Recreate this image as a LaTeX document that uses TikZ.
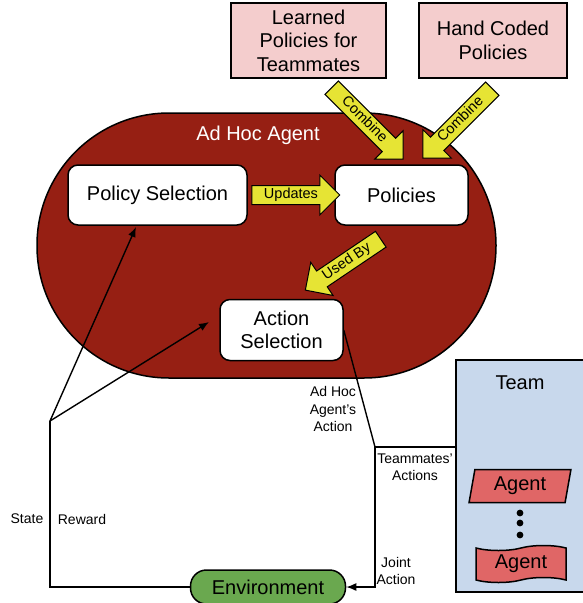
\documentclass[tikz,border=0pt]{standalone}
\usepackage{fontspec}
\setmainfont{Liberation Sans}
\usepackage{tikz}
\usetikzlibrary{shapes.geometric, shapes.symbols, shapes.arrows, arrows.meta, positioning, calc}
\definecolor{hocred}{RGB}{150,31,19}
\definecolor{srcpink}{RGB}{244,205,205}
\definecolor{flowyellow}{RGB}{230,228,52}
\definecolor{teamblue}{RGB}{200,216,236}
\definecolor{matered}{RGB}{224,102,102}
\definecolor{envgreen}{RGB}{106,168,79}

\begin{document}
\begin{tikzpicture}[x=1pt, y=-1pt]
        % Define styles
        \tikzstyle{source} = [rectangle, draw, line width=1.5pt, fill=srcpink, align=center, font=\fontsize{20}{23.5}\selectfont]
        \tikzstyle{module} = [rectangle, draw, line width=1.5pt, fill=white, rounded corners=10pt, align=center, font=\fontsize{20}{23.5}\selectfont]
        \tikzstyle{flow} = [single arrow, draw, line width=1pt, fill=flowyellow, single arrow head extend=10.5pt, inner xsep=1pt, inner ysep=2.5pt, text height=10pt, text depth=3pt, font=\fontsize{14.5}{16}\selectfont]
        \tikzstyle{mate} = [draw, line width=1.5pt, fill=matered, font=\fontsize{20}{23.5}\selectfont]
        \tikzstyle{small} = [align=center, font=\fontsize{14}{17.5}\selectfont]
        \tikzstyle{arrow} = [-{Latex[length=10pt, width=8pt]}, line width=1.4pt]
        \tikzstyle{line} = [line width=1.4pt]

        \useasboundingbox (0,0) rectangle (583,603);

        % Agent body
        \node[draw, line width=1.5pt, fill=hocred, rounded corners=132pt, minimum width=459, minimum height=265] (adhoc) at (266.5,245.5) {};
        \node[white, font=\fontsize{20}{23.5}\selectfont] (adhoclbl) at (258,135) {Ad Hoc Agent};

        % Policy sources
        \node[source, minimum width=155, minimum height=75] (lpt) at (308.5,40.5) {Learned\\Policies for\\Teammates};
        \node[source, minimum width=148, minimum height=75] (hcp) at (493,40.5) {Hand Coded\\Policies};

        % Modules
        \node[module, minimum width=179, minimum height=60] (ps) at (157.5,195) {Policy Selection};
        \node[module, minimum width=133, minimum height=60] (pol) at (401.5,195) {Policies};
        \node[module, minimum width=123, minimum height=61] (act) at (281.5,330) {Action\\Selection};

        % Block arrows
        \node[flow, minimum height=88] (upd) at (291,195) {Updates};
        \node[flow, minimum height=101, rotate=-45] (cmb1) at (364,120) {Combine};
        \node[flow, minimum height=98, rotate=45, shape border rotate=180] (cmb2) at (461,120) {Combine};
        \node[flow, minimum height=91, rotate=34, shape border rotate=180] (used) at (347,262) {Used By};

        % Team
        \node[draw, line width=1.5pt, fill=teamblue, minimum width=128, minimum height=232] (team) at (520,476) {};
        \node[font=\fontsize{20}{23.5}\selectfont] (teamlbl) at (520,383) {Team};
        \node[mate, trapezium, trapezium left angle=80, trapezium right angle=100, trapezium stretches=true, minimum width=102, minimum height=33, inner sep=1pt] (ag1) at (520,486) {Agent};
        \node[mate, tape, minimum width=90, minimum height=37, inner sep=1pt] (ag2) at (521,564) {Agent};
        \foreach \y in {513,523,535}
            \fill (520,\y) circle (3.4pt);

        % Environment
        \node[draw, line width=1.5pt, fill=envgreen, rounded corners=16pt, minimum width=155, minimum height=34, font=\fontsize{20}{23.5}\selectfont] (env) at (268,587) {Environment};

        % Connections
        \coordinate (sr) at (50,421);
        \coordinate (psin) at (136,227);
        \coordinate (actin) at (209,322);
        \coordinate (jn) at (375,447);
        \draw[line] (env.west) -| (sr);
        \draw[arrow] (sr) -- (psin);
        \draw[arrow] (sr) -- (actin);
        \draw[line] (act.east) -- (jn);
        \draw[line] (jn) -- (jn -| team.west);
        \draw[arrow] (jn) |- (env.east);

        % Labels
        \node[small] (ahl) at (333,409) {Ad Hoc\\Agent's\\Action};
        \node[small] (tml) at (415,467) {Teammates'\\Actions};
        \node[small] (jal) at (396,571) {Joint\\Action};
        \node[small] (stl) at (27,519) {State};
        \node[small] (rwl) at (82,519) {Reward};

\end{tikzpicture}
\end{document}
